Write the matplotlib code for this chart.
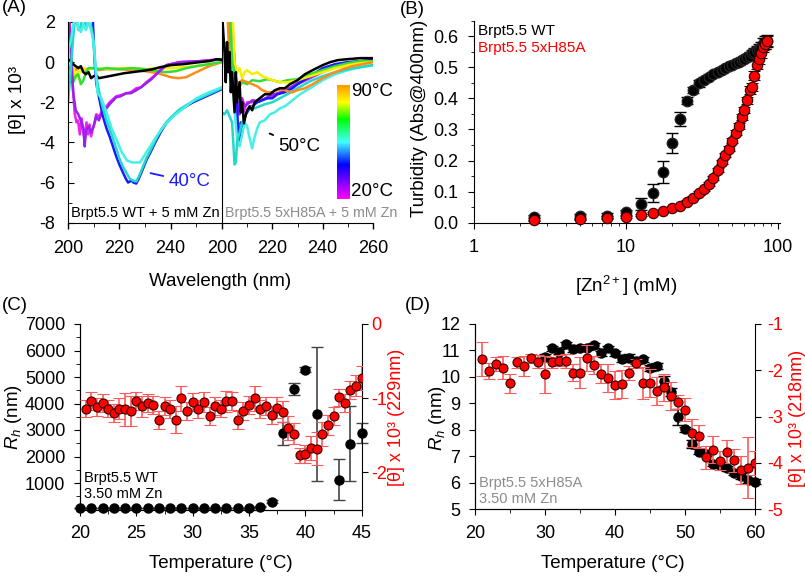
import matplotlib
matplotlib.use('Agg')
import matplotlib.pyplot as plt
import numpy as np
from matplotlib.colors import LinearSegmentedColormap
from matplotlib.ticker import MultipleLocator, FixedLocator, NullFormatter, LogLocator

plt.rcParams['font.family'] = ['Liberation Sans', 'DejaVu Sans']
plt.rcParams['mathtext.fontset'] = 'custom'
plt.rcParams['mathtext.rm'] = 'Liberation Sans'
plt.rcParams['mathtext.it'] = 'Liberation Sans:italic'
plt.rcParams['axes.unicode_minus'] = False
plt.rcParams['font.size'] = 12

# ---------------- Panel A data: CD spectra ----------------
# WT + 5 mM Zn
wl_wt_20 = [200, 200.6, 201.5, 202.6, 203.3, 203.9, 204.6, 205.3, 206.0, 206.5, 207.2, 207.8, 208.4, 209.0, 209.7, 210.4, 211.0, 212.3, 213.6, 215.0, 216.2, 218.8, 220.5, 222.7, 224.5, 226.6, 228.5, 230.5, 232.5, 234.4, 236.5, 238.3, 243.5, 251.3, 259, 260]
th_wt_20 = [3.0, 2.2, -0.5, -2.55, -3.0, -2.9, -3.6, -2.8, -3.5, -3.9, -3.0, -3.6, -3.1, -3.7, -3.3, -3.0, -2.6, -2.7, -2.3, -2.2, -2.0, -1.7, -1.65, -1.55, -1.5, -1.3, -1.25, -1.0, -0.8, -0.6, -0.35, -0.15, 0.0, 0.05, 0.15, 0.1]
wl_wt_30 = [200, 201.0, 202.0, 203.0, 204.0, 205.0, 206.0, 206.5, 207.0, 208.0, 209.0, 210.0, 211.0, 212.0, 213.6, 215.0, 216.2, 218.8, 220.5, 222.7, 224.5, 226.6, 228.5, 230.5, 232.5, 234.4, 236.5, 238.3, 243.5, 251.3, 259, 260]
th_wt_30 = [3.0, 1.0, -1.5, -2.4, -2.6, -2.9, -3.3, -4.2, -3.4, -3.2, -3.5, -3.2, -2.7, -2.9, -2.4, -2.3, -2.1, -1.75, -1.7, -1.55, -1.55, -1.4, -1.25, -1.05, -0.85, -0.6, -0.35, -0.15, 0.0, 0.05, 0.12, 0.1]
wl_wt_40 = [200, 205, 209.0, 209.7, 210.4, 211.0, 212.3, 213.6, 215.0, 216.2, 217.5, 218.8, 220.0, 221.4, 222.5, 223.4, 224.7, 225.5, 226.6, 227.6, 228.6, 230.5, 232.5, 234.4, 236.3, 238.3, 240.5, 243.5, 246.0, 248.7, 251.3, 253.9, 256.5, 259, 260]
th_wt_40 = [3.0, 3.0, 3.0, 2.0, 0.0, -1.05, -1.9, -2.7, -3.3, -3.7, -4.2, -4.7, -5.1, -5.5, -5.8, -6.0, -5.9, -6.0, -6.05, -5.8, -5.5, -4.9, -4.4, -3.9, -3.45, -3.05, -2.75, -2.4, -2.2, -2.0, -1.85, -1.7, -1.55, -1.4, -1.35]
wl_wt_50 = [200, 201.0, 202.0, 203.0, 204.0, 205.0, 206.0, 207.0, 208.0, 209.0, 209.7, 211.0, 212.3, 213.6, 215.0, 216.2, 217.5, 218.8, 220.0, 221.4, 222.7, 224.0, 225.3, 226.6, 227.6, 228.6, 230.5, 232.5, 234.4, 236.3, 238.3, 240.5, 243.5, 246.0, 248.7, 251.3, 253.9, 256.5, 259, 260]
th_wt_50 = [-2.0, -0.5, 1.2, 2.5, 1.6, 1.8, 2.5, 1.7, 2.0, 1.8, 1.3, -0.7, -1.6, -2.3, -2.9, -3.3, -3.8, -4.3, -4.8, -5.2, -5.5, -5.8, -5.9, -5.95, -5.7, -5.4, -4.8, -4.3, -3.8, -3.35, -3.0, -2.7, -2.35, -2.15, -1.95, -1.8, -1.65, -1.5, -1.35, -1.3]
wl_wt_60 = [200, 201.0, 202.0, 203.0, 204.0, 205.0, 206.0, 207.0, 208.0, 209.0, 210.0, 211.5, 213.0, 215.0, 217.0, 219.0, 221.0, 223.0, 225.0, 228.0, 230.0, 232.0, 235.0, 238.0, 241.0, 245.0, 250.0, 255.0, 260.0]
th_wt_60 = [0.5, 1.0, 1.8, 2.5, 1.7, 1.5, 1.9, 1.6, 2.0, 1.6, 1.0, -1.55, -1.8, -2.5, -3.3, -3.9, -4.5, -4.9, -5.0, -5.0, -4.6, -4.2, -3.6, -3.1, -2.7, -2.3, -1.8, -1.5, -1.25]
wl_wt_70 = [200, 201, 202, 203, 204, 205, 206, 207, 208, 210, 212, 215, 220, 225, 230, 235, 238, 242, 246, 250, 255, 260]
th_wt_70 = [-0.5, -0.2, -1.0, -0.7, -0.6, -1.1, -0.9, -0.5, -0.3, -0.3, -0.35, -0.3, -0.35, -0.3, -0.35, -0.45, -0.5, -0.45, -0.3, -0.2, -0.1, 0.0]
wl_wt_80 = [200, 201, 202, 203, 204, 205, 206, 207, 210, 215, 220, 225, 230, 235, 240, 245, 250, 255, 260]
th_wt_80 = [0.5, -0.3, -0.2, -0.8, -0.4, -0.5, -0.3, -0.4, -0.3, -0.35, -0.3, -0.3, -0.35, -0.3, -0.3, -0.25, -0.2, -0.1, 0.0]
wl_wt_90 = [200, 201, 202, 203, 204, 205, 207, 210, 212, 215, 220, 225, 230, 235, 240, 243, 246, 250, 255, 260]
th_wt_90 = [0.0, -0.2, -0.3, -0.4, -0.25, -0.3, -0.35, -0.3, -0.4, -0.35, -0.35, -0.4, -0.45, -0.55, -0.75, -0.8, -0.75, -0.5, -0.2, 0.0]
wl_wt_k = [200, 201, 202, 203, 204, 205, 206, 207, 208, 209, 210, 211, 212, 214, 216, 218, 220, 222, 225, 228, 230, 233, 236, 240, 245, 250, 255, 258, 260]
th_wt_k = [0.15, 0.05, -0.1, -0.2, -0.3, -0.2, -0.5, -0.6, -0.5, -0.8, -0.7, -0.65, -0.8, -0.75, -0.7, -0.65, -0.6, -0.55, -0.5, -0.45, -0.42, -0.35, -0.25, -0.15, -0.1, -0.02, 0.05, 0.15, 0.12]

# 5xH85A + 5 mM Zn
wl_mu_20 = [200, 202.5, 203.5, 204.5, 205.5, 206.5, 207.5, 208.5, 210, 212, 215, 218, 220, 223, 226, 230, 235, 240, 245, 250, 255, 260]
th_mu_20 = [3.0, 3.0, 0.0, -1.5, -1.8, -2.3, -1.9, -2.5, -2.0, -2.0, -1.9, -1.8, -1.7, -1.5, -1.4, -1.1, -0.8, -0.5, -0.25, -0.1, 0.0, 0.05]
wl_mu_30 = [200, 203.0, 204.0, 205.0, 206.0, 207.0, 208.0, 209.0, 210, 212, 215, 218, 220, 223, 226, 230, 235, 240, 245, 250, 255, 260]
th_mu_30 = [3.0, 3.0, 0.5, -1.2, -2.0, -2.6, -1.8, -2.2, -2.1, -1.9, -1.95, -1.75, -1.6, -1.55, -1.35, -1.05, -0.75, -0.45, -0.2, -0.05, 0.05, 0.1]
wl_mu_40 = [200, 203, 204, 205, 206, 206.5, 207, 207.5, 208, 209, 210, 211, 212, 214, 216, 218, 220, 222, 225, 228, 230, 235, 240, 245, 250, 255, 260]
th_mu_40 = [3.0, 3.0, 2.0, 0.0, -2.0, -4.0, -3.8, -3.0, -3.5, -2.7, -2.5, -2.3, -2.2, -2.0, -1.9, -1.8, -1.8, -1.6, -1.5, -1.3, -1.1, -0.7, -0.3, -0.1, 0.0, 0.05, 0.1]
wl_mu_50 = [200, 201, 202, 203, 204, 205, 205.5, 206, 207, 208, 209, 210, 211, 213, 215, 217, 220, 223, 226, 230, 235, 240, 245, 250, 255, 260]
th_mu_50 = [-2.5, -2.6, -2.4, -2.7, -3.0, -5.1, -5.0, -4.0, -3.5, -3.0, -2.8, -2.4, -2.2, -2.3, -2.2, -2.1, -2.0, -1.8, -1.6, -1.3, -0.95, -0.7, -0.5, -0.35, -0.25, -0.15]
wl_mu_60 = [200, 203, 204, 205, 206, 207, 208, 209, 210, 211, 212, 213, 214, 215, 217, 219, 221, 223, 225, 228, 231, 235, 240, 245, 250, 255, 260]
th_mu_60 = [3.0, 3.0, 0.0, -2.5, -3.8, -4.2, -3.6, -3.0, -3.2, -3.8, -4.3, -3.7, -3.3, -3.0, -2.9, -2.6, -2.5, -2.3, -2.2, -1.9, -1.6, -1.3, -0.9, -0.6, -0.4, -0.25, -0.15]
wl_mu_70 = [200, 203, 204, 205, 206, 207, 208, 210, 212, 215, 218, 220, 223, 226, 230, 235, 240, 245, 250, 255, 260]
th_mu_70 = [3.0, 3.0, 0.0, -0.5, -1.0, -1.2, -1.0, -1.1, -0.9, -0.95, -0.85, -0.9, -1.0, -0.9, -0.85, -0.6, -0.4, -0.2, -0.05, 0.05, 0.05]
wl_mu_80 = [200, 204, 205, 206, 207, 208, 209, 210, 212, 214, 216, 218, 220, 223, 226, 230, 235, 240, 245, 250, 255, 260]
th_mu_80 = [3.0, 3.0, 0.0, -0.5, -0.3, -0.8, -0.5, -0.4, -0.6, -0.5, -0.7, -0.8, -0.9, -1.0, -1.0, -0.9, -0.7, -0.5, -0.3, -0.15, -0.05, 0.0]
wl_mu_90 = [200, 202, 203, 204, 205, 206, 207, 208, 210, 212, 214, 216, 218, 220, 222, 224, 226, 228, 230, 233, 236, 240, 244, 248, 252, 256, 260]
th_mu_90 = [3.0, 3.0, 0.0, -1.0, -1.5, -1.2, -1.0, -0.9, -1.0, -1.1, -1.2, -1.4, -1.5, -1.5, -1.4, -1.35, -1.45, -1.5, -1.4, -1.3, -1.1, -0.8, -0.55, -0.35, -0.2, -0.1, 0.0]
wl_mu_k = [200, 201, 201.5, 202, 202.5, 203, 203.5, 204, 205, 205.5, 206, 207, 207.5, 208, 208.7, 209.5, 210, 211, 212, 213, 215, 217, 219, 221, 223, 225, 227, 230, 233, 236, 240, 243, 246, 250, 255, 260]
th_mu_k = [2.5, 0.5, -1.0, 1.0, -0.5, 0.5, -1.5, -0.5, -2.5, -0.5, -2.0, -1.0, -2.5, -2.0, -3.05, -2.6, -2.4, -2.2, -2.4, -2.0, -1.8, -1.6, -1.6, -1.4, -1.3, -1.3, -1.1, -0.9, -0.6, -0.4, -0.15, 0.0, 0.1, 0.15, 0.2, 0.2]

col_20 = '#ee22ee'
col_30 = '#9922ee'
col_40 = '#1a1aff'
col_50 = '#22d8c8'
col_60 = '#44f0e8'
col_70 = '#33dd33'
col_80 = '#f5ee00'
col_90 = '#ff8c1a'

cbar_colors = ['#ff00ff', '#8000ff', '#0000ff', '#40ffff', '#00ff00', '#ffff00', '#ff9900']
cbar_stops = [0.0, 0.15, 0.3, 0.5, 0.7, 0.85, 1.0]

# ---------------- Panel B data: turbidity ----------------
zn = [2.5, 5, 7.5, 10, 12.5, 15, 17.5, 20, 22.5, 25, 27.5, 30, 32.5, 35, 37.5, 40, 42.5, 45, 47.5, 50,
      52.5, 55, 57.5, 60, 62.5, 65, 67.5, 70, 72.5, 75, 77.5, 80, 82.5, 85]
turb_wt = [0.018, 0.020, 0.022, 0.033, 0.060, 0.095, 0.163, 0.257, 0.333, 0.393, 0.428, 0.448, 0.460, 0.470,
           0.478, 0.485, 0.490, 0.497, 0.503, 0.508, 0.513, 0.518, 0.523, 0.528, 0.533, 0.538, 0.545, 0.550,
           0.555, 0.560, 0.565, 0.575, 0.580, 0.585]
turb_wt_err = [0.008, 0.008, 0.008, 0.008, 0.018, 0.030, 0.035, 0.033, 0.022, 0.012, 0.010, 0.010, 0.008, 0.008,
               0.008, 0.008, 0.008, 0.008, 0.008, 0.008, 0.008, 0.010, 0.010, 0.010, 0.010, 0.012, 0.012, 0.012,
               0.015, 0.015, 0.015, 0.020, 0.020, 0.020]
turb_mu = [0.010, 0.012, 0.016, 0.019, 0.025, 0.031, 0.038, 0.046, 0.055, 0.067, 0.080, 0.095, 0.107, 0.125,
           0.145, 0.170, 0.195, 0.217, 0.238, 0.263, 0.290, 0.312, 0.340, 0.362, 0.394, 0.427, 0.437, 0.473,
           0.508, 0.527, 0.545, 0.565, 0.575, 0.585]
turb_mu_err = [0.004, 0.004, 0.004, 0.004, 0.004, 0.004, 0.004, 0.005, 0.005, 0.005, 0.005, 0.006, 0.006, 0.006,
               0.006, 0.006, 0.007, 0.007, 0.008, 0.008, 0.008, 0.010, 0.010, 0.010, 0.012, 0.012, 0.012, 0.015,
               0.015, 0.015, 0.015, 0.015, 0.015, 0.015]

# ---------------- Panel C data: WT DLS + CD ----------------
tc_rh = [20, 21, 22, 23, 24, 25, 26, 27, 28, 29, 30, 31, 32, 33, 34, 35, 36, 37, 38, 39, 40, 41, 43, 44, 45]
rh_wt = [50, 50, 50, 50, 50, 50, 50, 50, 50, 50, 50, 50, 50, 50, 50, 50, 105, 300, 2880, 4540, 5280, 3610, 1120, 2490, 2900]
rh_wt_err = [0, 0, 0, 0, 0, 0, 0, 0, 0, 0, 0, 0, 0, 0, 0, 0, 20, 60, 430, 220, 100, 2520, 780, 1400, 380]
tc_cd = [20.5, 21, 21.5, 22, 22.5, 23, 23.5, 24, 24.5, 25, 25.5, 26, 26.5, 27, 27.5, 28, 28.5, 29, 29.5, 30,
         30.5, 31, 31.5, 32, 32.5, 33, 33.5, 34, 34.5, 35, 35.5, 36, 36.5, 37, 37.5, 38, 38.5, 39, 39.5, 40,
         40.5, 41, 41.5, 42, 42.5, 43, 43.5, 44, 44.5, 45]
cd_wt = [-1.14, -1.04, -1.12, -1.07, -1.14, -1.20, -1.14, -1.15, -1.17, -1.04, -1.11, -1.06, -1.09, -1.29, -1.11,
         -1.15, -1.29, -1.00, -1.17, -1.05, -1.15, -1.05, -1.24, -1.11, -1.14, -1.04, -1.04, -1.29, -1.17, -1.09,
         -1.00, -1.15, -1.11, -1.23, -1.13, -1.18, -1.40, -1.48, -1.77, -1.75, -1.67, -1.68, -1.48, -1.36, -1.24,
         -0.99, -1.07, -0.89, -0.83, -0.73]
cd_wt_err = [0.12, 0.12, 0.12, 0.12, 0.12, 0.12, 0.14, 0.22, 0.2, 0.12, 0.14, 0.12, 0.12, 0.12, 0.12,
             0.12, 0.18, 0.17, 0.12, 0.12, 0.12, 0.14, 0.12, 0.12, 0.12, 0.14, 0.12, 0.12, 0.12, 0.12,
             0.17, 0.12, 0.12, 0.12, 0.14, 0.14, 0.16, 0.14, 0.1, 0.12, 0.16, 0.22, 0.16, 0.14, 0.12,
             0.12, 0.12, 0.12, 0.14, 0.16]

# ---------------- Panel D data: 5xH85A DLS + CD ----------------
td_rh = [30, 31, 32, 33, 34, 35, 36, 37, 38, 39, 40, 41, 42, 43, 44, 45, 46, 47, 48, 49, 50, 51, 52, 53, 54,
         55, 56, 57, 58, 59, 60]
rh_mu = [10.77, 11.08, 10.95, 11.23, 11.04, 11.10, 11.10, 11.20, 10.89, 11.08, 10.89, 10.67, 10.73, 10.60, 10.67,
         10.33, 10.41, 9.85, 9.44, 8.50, 8.02, 7.45, 7.18, 7.10, 6.72, 6.67, 6.55, 6.38, 6.26, 6.10, 6.04]
rh_mu_err = [0.1, 0.1, 0.1, 0.1, 0.1, 0.1, 0.1, 0.1, 0.1, 0.1, 0.1, 0.1, 0.12, 0.12, 0.1,
             0.12, 0.12, 0.2, 0.15, 0.3, 0.1, 0.15, 0.1, 0.1, 0.1, 0.1, 0.1, 0.1, 0.1, 0.1, 0.1]
td_cd = [21, 22, 23, 24, 25, 26, 27, 28, 29, 30, 31, 32, 33, 34, 35, 36, 37, 38, 39, 40, 41, 42, 43, 44, 45,
         46, 47, 48, 49, 50, 51, 52, 53, 54, 55, 56, 57, 58, 59, 60]
cd_mu = [-1.76, -2.01, -1.87, -1.94, -2.28, -1.83, -1.90, -1.74, -1.81, -2.09, -1.83, -1.79, -1.80, -2.05, -2.05,
         -1.73, -1.88, -2.07, -2.17, -2.32, -2.29, -2.05, -1.85, -2.27, -2.27, -2.45, -2.37, -2.56, -2.68, -2.85,
         -3.36, -3.42, -3.88, -3.71, -3.95, -3.76, -3.94, -4.15, -4.10, -4.00]
cd_mu_err = [0.37, 0.17, 0.15, 0.25, 0.2, 0.12, 0.22, 0.1, 0.15, 0.4, 0.12, 0.12, 0.15, 0.18, 0.33,
             0.28, 0.2, 0.2, 0.3, 0.3, 0.3, 0.15, 0.1, 0.35, 0.3, 0.3, 0.3, 0.3, 0.15, 0.25,
             0.3, 0.25, 0.25, 0.3, 0.2, 0.25, 0.25, 0.3, 0.65, 0.25]

# =====================================================
W, H = 805, 576
fig = plt.figure(figsize=(W / 100, H / 100), dpi=100)


def box(x0, y0, x1, y1):
    return [x0 / W, 1 - y1 / H, (x1 - x0) / W, (y1 - y0) / H]


def T(x, y, s, **kw):
    kw.setdefault('va', 'center')
    fig.text(x / W, 1 - y / H, s, **kw)


RED = '#ff0000'
LRED = '#ff5a5a'
FT = 13      # tick labels
FL = 13.5    # axis labels
PX = 7       # x tick pad
PY = 6.5     # y tick pad

# ---------------- Panel A ----------------
axA1 = fig.add_axes(box(68, 22, 222, 222.7))
axA2 = fig.add_axes(box(222, 22, 373, 222.7))
for ax in (axA1, axA2):
    ax.set_xlim(200, 260)
    ax.set_ylim(-8, 2)
    ax.spines['top'].set_visible(False)
    ax.spines['right'].set_visible(False)
    ax.patch.set_alpha(0)
    ax.tick_params(axis='x', direction='out', length=4, width=1, labelsize=FT, pad=8.5)
    ax.xaxis.set_minor_locator(FixedLocator([210, 230, 250]))
    ax.tick_params(axis='x', which='minor', direction='out', length=3)

axA1.set_xticks([200, 220, 240])
axA2.set_xticks([200, 220, 240, 260])
axA1.set_yticks([-8, -6, -4, -2, 0, 2])
axA1.yaxis.set_minor_locator(MultipleLocator(1))
axA1.tick_params(axis='y', direction='in', length=4, labelsize=FT, pad=9.5)
axA1.tick_params(axis='y', which='minor', direction='in', length=3)
axA2.tick_params(axis='y', left=False, labelleft=False, which='both')

lw = 1.8
for wl, th, c in [(wl_wt_90, th_wt_90, col_90), (wl_wt_80, th_wt_80, col_80), (wl_wt_70, th_wt_70, col_70),
                  (wl_wt_20, th_wt_20, col_20), (wl_wt_30, th_wt_30, col_30), (wl_wt_k, th_wt_k, 'black'),
                  (wl_wt_40, th_wt_40, col_40), (wl_wt_50, th_wt_50, col_50), (wl_wt_60, th_wt_60, col_60)]:
    axA1.plot(wl, th, color=c, lw=lw)
for wl, th, c in [(wl_mu_20, th_mu_20, col_20), (wl_mu_30, th_mu_30, col_30), (wl_mu_40, th_mu_40, col_40),
                  (wl_mu_60, th_mu_60, col_60), (wl_mu_50, th_mu_50, col_50), (wl_mu_70, th_mu_70, col_70),
                  (wl_mu_80, th_mu_80, col_80), (wl_mu_90, th_mu_90, col_90), (wl_mu_k, th_mu_k, 'black')]:
    axA2.plot(wl, th, color=c, lw=lw)

axA1.annotate('40°C', xy=(231.1, -5.5), xytext=(247.4, -5.97), color='#1a1aff', fontsize=FL,
              va='center', ha='center', arrowprops=dict(arrowstyle='-', color='#1a1aff', lw=1.3))
axA2.annotate('50°C', xy=(217.9, -3.5), xytext=(230.8, -4.2), color='black', fontsize=FL,
              va='center', ha='center', arrowprops=dict(arrowstyle='-', color='black', lw=1.3))

# colorbar
cmap = LinearSegmentedColormap.from_list('tc', list(zip(cbar_stops, cbar_colors)))
axCb = fig.add_axes(box(337, 85, 350, 199))
grad = np.linspace(0, 1, 256).reshape(-1, 1)
axCb.imshow(grad, aspect='auto', cmap=cmap, origin='lower', extent=[0, 1, 0, 1])
axCb.set_axis_off()
T(351, 91, '90°C', fontsize=FL, ha='left')
T(351, 192, '20°C', fontsize=FL, ha='left')

T(71, 213, 'Brpt5.5 WT + 5 mM Zn', fontsize=10.5, ha='left')
T(225, 213, 'Brpt5.5 5xH85A + 5 mM Zn', fontsize=10.3, ha='left', color='#8c8c8c')
T(17, 100, '[θ] x 10³', fontsize=FL, ha='center', rotation=90)
T(220, 281, 'Wavelength (nm)', fontsize=FL, ha='center')
T(2, 8, '(A)', fontsize=FL, ha='left')

# ---------------- Panel B ----------------
axB = fig.add_axes(box(474, 20.7, 780, 222.7))
axB.set_xscale('log')
axB.set_xlim(1, 103)
axB.set_ylim(0, 0.65)
axB.spines['top'].set_visible(False)
axB.spines['right'].set_visible(False)
axB.set_yticks([0, 0.1, 0.2, 0.3, 0.4, 0.5, 0.6])
axB.set_yticklabels(['0.0', '0.1', '0.2', '0.3', '0.4', '0.5', '0.6'])
axB.yaxis.set_minor_locator(MultipleLocator(0.05))
axB.set_xticks([1, 10, 100])
axB.set_xticklabels(['1', '10', '100'])
axB.xaxis.set_minor_locator(LogLocator(base=10, subs=np.arange(2, 10)))
axB.xaxis.set_minor_formatter(NullFormatter())
axB.tick_params(axis='both', direction='out', length=4.5, labelsize=FT)
axB.tick_params(axis='x', pad=PX)
axB.tick_params(axis='y', pad=PY)
axB.tick_params(axis='both', which='minor', length=2.5)
axB.errorbar(zn, turb_wt, yerr=turb_wt_err, fmt='o', color='black', mfc='black', mec='#222222', ms=7.5,
             ecolor='black', elinewidth=1, capsize=4.5, clip_on=False, zorder=3)
axB.errorbar(zn, turb_mu, yerr=turb_mu_err, fmt='o', color=RED, mfc=RED, mec='#300000', mew=0.8, ms=7.5,
             ecolor='#300000', elinewidth=1, capsize=4.5, clip_on=False, zorder=4)
T(478, 31, 'Brpt5.5 WT', fontsize=11, ha='left')
T(478, 48, 'Brpt5.5 5xH85A', fontsize=11, ha='left', color=RED)
T(419, 118, 'Turbidity (Abs@400nm)', fontsize=FL, ha='center', rotation=90)
T(626, 286, '[Zn$^{2+}$] (mM)', fontsize=FL, ha='center')
T(400, 9, '(B)', fontsize=FL, ha='left')

# ---------------- Panel C ----------------
axC = fig.add_axes(box(80, 324, 361.7, 509.5))
axC.set_xlim(20, 45)
axC.set_ylim(0, 7000)
axC.spines['top'].set_visible(False)
axC.spines['right'].set_visible(False)
axC.set_xticks([20, 25, 30, 35, 40, 45])
axC.xaxis.set_minor_locator(MultipleLocator(2.5))
axC.set_yticks([1000, 2000, 3000, 4000, 5000, 6000, 7000])
axC.yaxis.set_minor_locator(MultipleLocator(500))
axC.tick_params(axis='both', direction='out', length=4, labelsize=FT)
axC.tick_params(axis='x', pad=PX)
axC.tick_params(axis='y', pad=PY)
axC.tick_params(axis='both', which='minor', direction='out', length=3)
axC.errorbar(tc_rh, rh_wt, yerr=rh_wt_err, fmt='o', color='black', ms=6.5, ecolor='#444444',
             elinewidth=1.2, capsize=4.5, clip_on=False, zorder=3)
axC2 = axC.twinx()
axC2.set_ylim(-2.5, 0)
axC2.set_yticks([-2, -1, 0])
axC2.spines['top'].set_visible(False)
axC2.tick_params(axis='y', direction='out', length=4, labelsize=FT, labelcolor=RED, pad=3)
axC2.errorbar(tc_cd, cd_wt, yerr=cd_wt_err, fmt='o', color=RED, mfc=RED, mec='#300000', mew=0.8, ms=6.5,
              ecolor=LRED, elinewidth=1.2, capsize=4.5, zorder=4)
T(14, 417, '$R_h$ (nm)', fontsize=FL, ha='center', rotation=90)
T(396.5, 417, '[θ] x 10³ (229nm)', fontsize=13, ha='center', rotation=90, color=RED)
T(221, 563, 'Temperature (°C)', fontsize=FL, ha='center')
T(84, 486, 'Brpt5.5 WT\n3.50 mM Zn', fontsize=10.5, ha='left', linespacing=1.25)
T(2, 305, '(C)', fontsize=FL, ha='left')

# ---------------- Panel D ----------------
axD = fig.add_axes(box(475, 324, 755, 509.3))
axD.set_xlim(20, 60)
axD.set_ylim(5, 12)
axD.spines['top'].set_visible(False)
axD.spines['right'].set_visible(False)
axD.set_xticks([20, 30, 40, 50, 60])
axD.xaxis.set_minor_locator(MultipleLocator(5))
axD.set_yticks([5, 6, 7, 8, 9, 10, 11, 12])
axD.tick_params(axis='both', direction='out', length=4, labelsize=FT)
axD.tick_params(axis='x', pad=PX)
axD.tick_params(axis='y', pad=PY)
axD.tick_params(axis='x', which='minor', direction='out', length=3)
axD.errorbar(td_rh, rh_mu, yerr=rh_mu_err, fmt='o', color='black', ms=6.5, ecolor='black',
             elinewidth=1.2, capsize=4, clip_on=False, zorder=3)
axD2 = axD.twinx()
axD2.set_ylim(-5, -1)
axD2.set_yticks([-5, -4, -3, -2, -1])
axD2.spines['top'].set_visible(False)
axD2.tick_params(axis='y', direction='out', length=4, labelsize=FT, labelcolor=RED, pad=5)
axD2.errorbar(td_cd, cd_mu, yerr=cd_mu_err, fmt='o', color=RED, mfc=RED, mec='#300000', mew=0.8, ms=6.5,
              ecolor=LRED, elinewidth=1.2, capsize=4.5, zorder=4)
T(437, 418, '$R_h$ (nm)', fontsize=FL, ha='center', rotation=90)
T(797, 418, '[θ] x 10³ (218nm)', fontsize=13, ha='center', rotation=90, color=RED)
T(613, 563, 'Temperature (°C)', fontsize=FL, ha='center')
T(479, 491, 'Brpt5.5 5xH85A\n3.50 mM Zn', fontsize=10.5, ha='left', color='#8c8c8c', linespacing=1.25)
T(405, 305, '(D)', fontsize=FL, ha='left')

fig.savefig('out.png', dpi=100)
